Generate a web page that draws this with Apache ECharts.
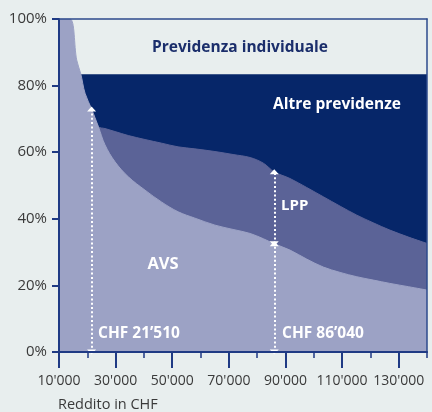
<!DOCTYPE html>
<html>
<head>
<meta charset="utf-8">
<script src="https://cdn.jsdelivr.net/npm/echarts@6/dist/echarts.min.js"></script>
<style>
  html, body { margin: 0; padding: 0; background: #e8eeee; }
  #chart { width: 432px; height: 412px; }
</style>
</head>
<body>
<div id="chart"></div>
<script>
// Annual income in CHF
const income = [10000, 13900, 16250, 17700, 19200, 21510, 23900, 26250, 29800, 34500,
  40400, 46300, 52100, 58000, 65100, 71500, 77500, 82200, 86040, 91600,
  97500, 103400, 109300, 115200, 121000, 126900, 133500, 140000];

// AVS (1st pillar) share of income, %
const avsShare = [100, 100, 87.7, 83.5, 77.7, 73.0, 67.7, 62.2, 57.1, 52.6,
  48.6, 45.0, 42.1, 40.2, 38.1, 36.8, 35.6, 34.0, 32.5, 30.6,
  27.9, 25.5, 23.9, 22.6, 21.6, 20.6, 19.6, 18.6];

// LPP (2nd pillar) share of income on top of AVS, %
const lppShare = [null, null, null, null, null, 0, 0, 4.9, 9.1, 12.4,
  15.2, 17.7, 19.5, 20.8, 22.1, 22.5, 22.8, 22.7, 21.6, 21.5,
  21.5, 21.1, 19.9, 18.5, 17.2, 16.0, 14.9, 14.0];

// Upper bound of the other provisions band, %
const altreIncome = [16250, 140000];
const altreTop = [83.4, 83.4];

// Axis ticks
const xMajorTicks = [10000, 30000, 50000, 70000, 90000, 110000, 130000];
const xMinorTicks = [20000, 40000, 60000, 80000, 100000, 120000, 140000];
const yTicks = [0, 20, 40, 60, 80, 100];

// LPP thresholds
const entryThreshold = 21510;
const upperLimit = 86040;

const C = {
  bg: '#e8eeee',
  avs: '#9ca2c5',
  lpp: '#5b6397',
  altre: '#062669',
  axis: '#1f3a84',
  frame: '#2c4a8c',
  text: '#3a3a3a',
  title: '#1b2e6b'
};
const FONT = '"Open Sans", "Noto Sans", sans-serif';

const fmtThousands = v => String(Math.round(v / 1000)) + "'000";
const idx = x => income.indexOf(x);
const avsAt = x => avsShare[idx(x)];
const lppTopAt = x => avsShare[idx(x)] + lppShare[idx(x)];

const avsData = income.map((x, i) => [x, avsShare[i]]);
const lppData = income
  .map((x, i) => lppShare[i] == null ? null : [x, avsShare[i] + lppShare[i]])
  .filter(d => d !== null);
const altreData = altreIncome.map((x, i) => [x, altreTop[i]]);

const chart = echarts.init(document.getElementById('chart'), null, { renderer: 'canvas' });

const dotted = { color: '#ffffff', width: 2, type: [2, 2.3] };

chart.setOption({
  backgroundColor: C.bg,
  animation: false,
  grid: { left: 59, right: 5, top: 19, bottom: 60, containLabel: false },
  xAxis: [
    {
      type: 'value', min: 10000, max: 140000, position: 'bottom', z: 5,
      axisLine: { show: true, lineStyle: { color: C.axis, width: 2 } },
      axisTick: { show: true, customValues: xMajorTicks, length: 16, lineStyle: { color: C.axis, width: 2 } },
      axisLabel: { customValues: xMajorTicks, formatter: fmtThousands, margin: 22,
        fontSize: 14, fontFamily: FONT, color: C.text },
      splitLine: { show: false }
    },
    {
      type: 'value', min: 10000, max: 140000, position: 'bottom', z: 5,
      axisLine: { show: false },
      axisTick: { show: true, customValues: xMinorTicks, length: 6, lineStyle: { color: C.axis, width: 1.5 } },
      axisLabel: { show: false },
      splitLine: { show: false }
    },
    {
      type: 'value', min: 10000, max: 140000, position: 'top', z: 5,
      axisLine: { show: true, lineStyle: { color: C.frame, width: 1.5 } },
      axisTick: { show: false }, axisLabel: { show: false }, splitLine: { show: false }
    }
  ],
  yAxis: [
    {
      type: 'value', min: 0, max: 100, interval: 20, z: 5,
      axisLine: { show: true, lineStyle: { color: C.axis, width: 2 } },
      axisTick: { show: true, length: 7, lineStyle: { color: C.axis, width: 2 } },
      axisLabel: { customValues: yTicks, formatter: '{value}%', margin: 12,
        fontSize: 15, fontFamily: FONT, color: C.text },
      splitLine: { show: false }
    },
    {
      type: 'value', min: 0, max: 100, position: 'right', z: 5,
      axisLine: { show: true, lineStyle: { color: C.frame, width: 1.5 } },
      axisTick: { show: false }, axisLabel: { show: false }, splitLine: { show: false }
    }
  ],
  series: [
    {
      name: 'Altre previdenze', type: 'line', data: altreData,
      symbol: 'none', lineStyle: { width: 0 },
      areaStyle: { color: C.altre, opacity: 1 }, z: 2
    },
    {
      name: 'LPP', type: 'line', data: lppData,
      symbol: 'none', smooth: 0.35, lineStyle: { width: 1, color: C.lpp },
      areaStyle: { color: C.lpp, opacity: 1 }, z: 3
    },
    {
      name: 'AVS', type: 'line', data: avsData,
      symbol: 'none', smooth: 0.35, lineStyle: { width: 1, color: C.avs },
      areaStyle: { color: C.avs, opacity: 1 }, z: 4,
      markLine: {
        silent: true, animation: false,
        symbol: ['triangle', 'triangle'], symbolSize: [9, 5],
        label: { show: false },
        lineStyle: dotted,
        emphasis: { disabled: true },
        data: [
          [{ coord: [entryThreshold, 0] }, { coord: [entryThreshold, avsAt(entryThreshold)] }],
          [{ coord: [upperLimit, 0] }, { coord: [upperLimit, avsAt(upperLimit)] }],
          [{ coord: [upperLimit, avsAt(upperLimit)] }, { coord: [upperLimit, lppTopAt(upperLimit)] }]
        ]
      }
    }
  ],
  graphic: [
    { type: 'text', x: 240, y: 48, z: 10, style: { text: 'Previdenza individuale', fill: C.title,
      font: 'bold 15.5px ' + FONT, align: 'center', verticalAlign: 'middle' } },
    { type: 'text', x: 337, y: 105, z: 10, style: { text: 'Altre previdenze', fill: '#ffffff',
      font: 'bold 15.5px ' + FONT, align: 'center', verticalAlign: 'middle' } },
    { type: 'text', x: 281, y: 206, z: 10, style: { text: 'LPP', fill: '#ffffff',
      font: 'bold 15px ' + FONT, align: 'left', verticalAlign: 'middle' } },
    { type: 'text', x: 163, y: 264, z: 10, style: { text: 'AVS', fill: '#ffffff',
      font: 'bold 16.5px ' + FONT, align: 'center', verticalAlign: 'middle' } },
    { type: 'text', x: 98, y: 334, z: 10, style: { text: 'CHF 21’510', fill: '#ffffff',
      font: 'bold 15.5px ' + FONT, align: 'left', verticalAlign: 'middle' } },
    { type: 'text', x: 282, y: 334, z: 10, style: { text: 'CHF 86’040', fill: '#ffffff',
      font: 'bold 15.5px ' + FONT, align: 'left', verticalAlign: 'middle' } },
    { type: 'text', x: 58, y: 412, z: 10, style: { text: 'Reddito in CHF', fill: C.text,
      font: '14.5px ' + FONT, align: 'left', verticalAlign: 'bottom' } }
  ]
});
</script>
</body>
</html>
